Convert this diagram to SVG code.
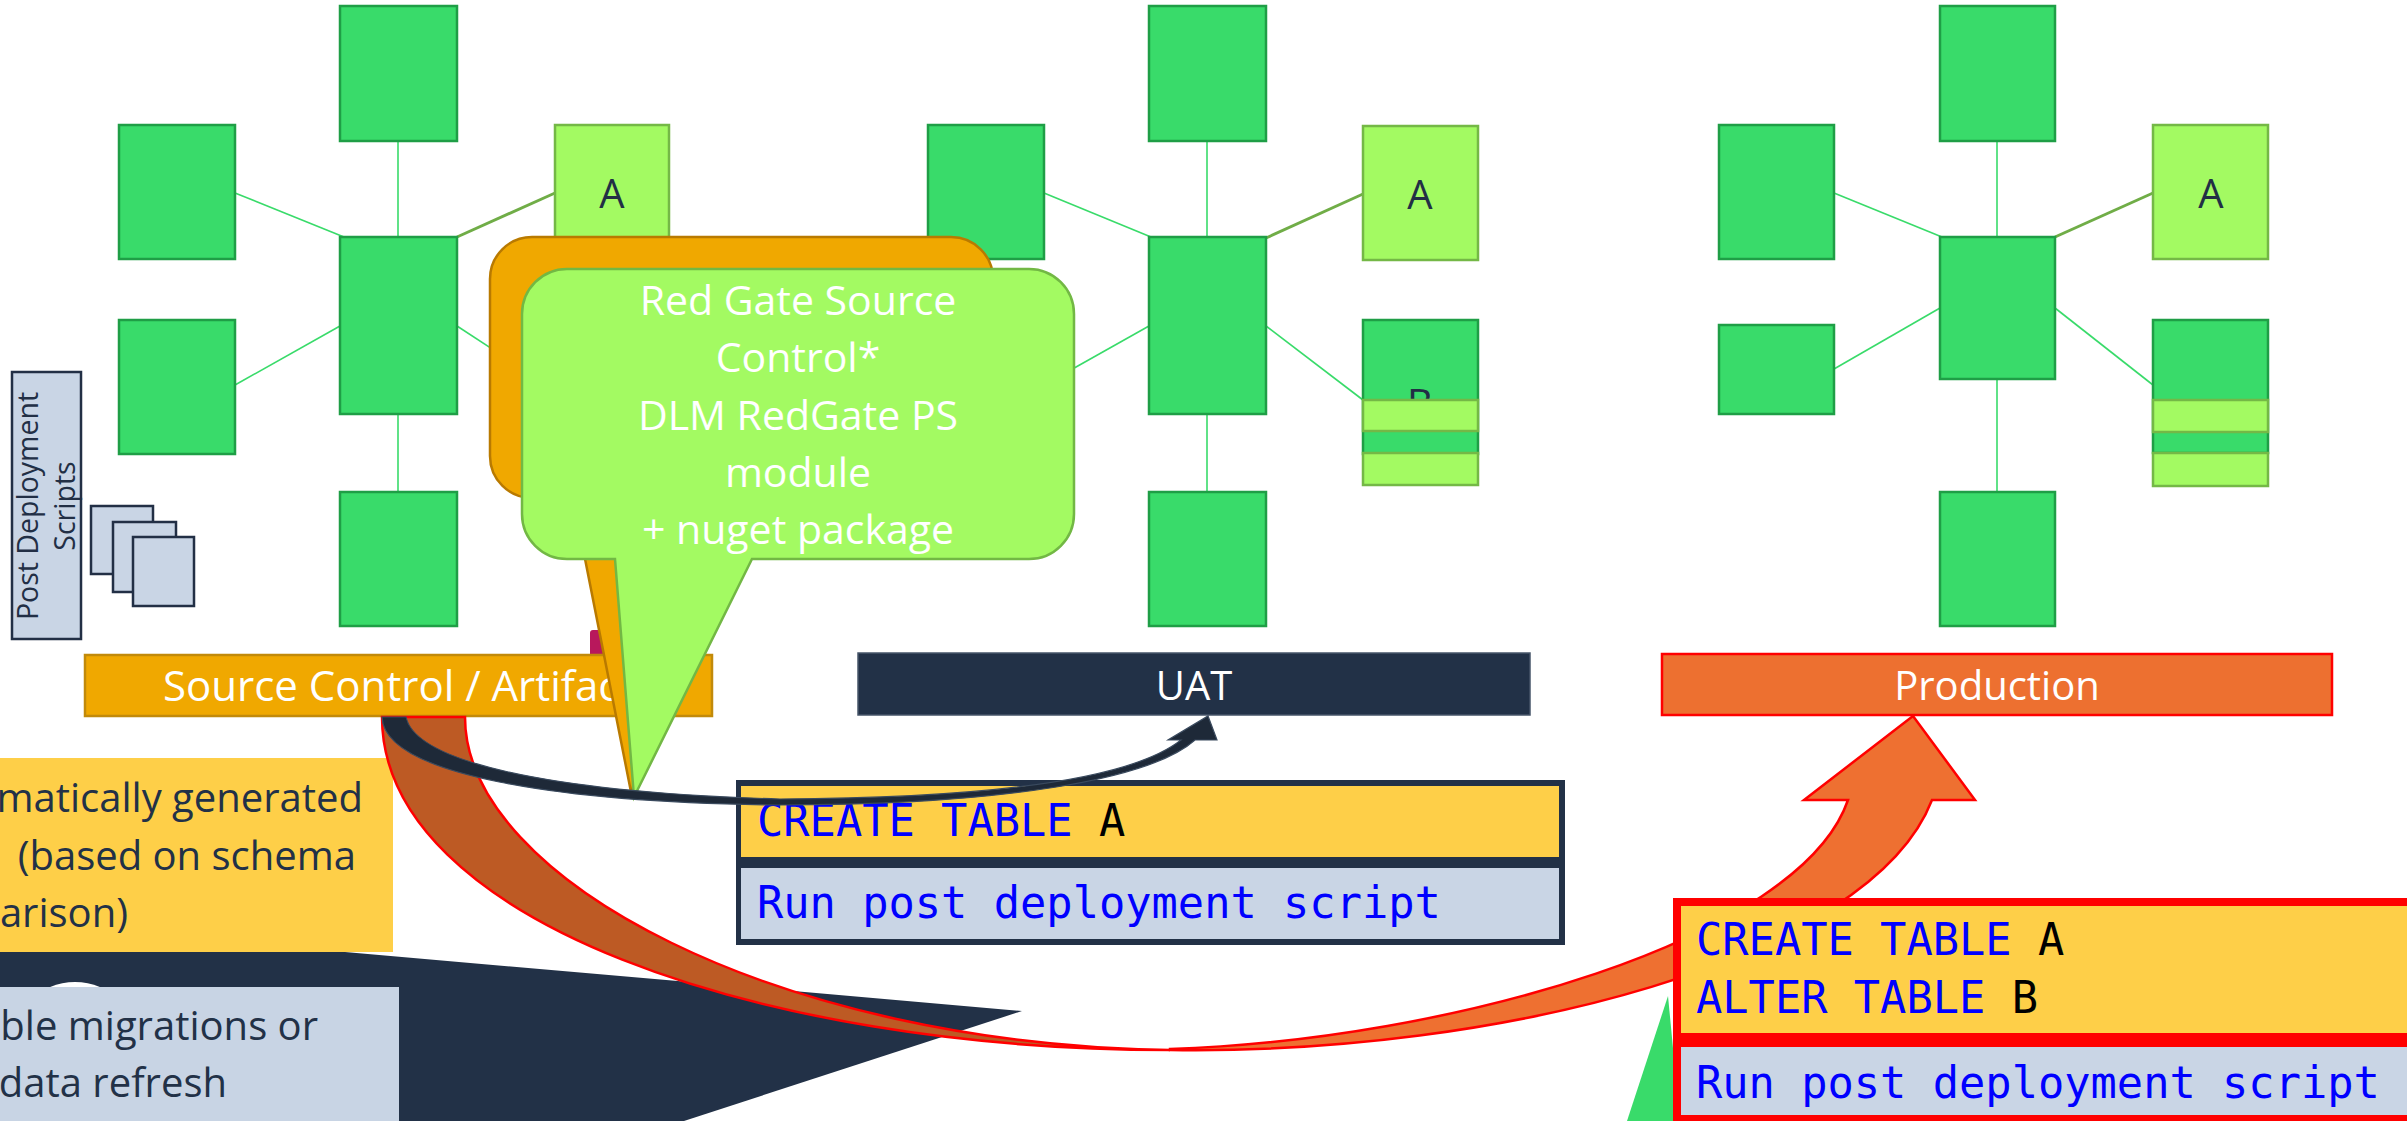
<svg xmlns="http://www.w3.org/2000/svg" width="2407" height="1121" viewBox="0 0 2407 1121">
<style>
  .tbl{fill:#39db6a;stroke:#1f9e46;stroke-width:2.5}
  .new{fill:#a3fa62;stroke:#74b846;stroke-width:2.5}
  .lnk{stroke:#39db6a;stroke-width:1.6;fill:none}
  .lnkA{stroke:#70ad47;stroke-width:3;fill:none}
  .sans{font-family:"Open Sans","Noto Sans","Liberation Sans",sans-serif}
  .lbl{font-size:40px;fill:#ffffff;text-anchor:middle}
  .call{font-size:41px;fill:#ffffff;text-anchor:middle}
  .tname{font-size:40px;fill:#222f45;text-anchor:middle}
  .note{font-size:40px;fill:#223147;text-anchor:end}
  .mono{font-family:"DejaVu Sans Mono","Liberation Mono",monospace;font-size:43.7px;fill:#0000ff}
  .id{fill:#000000}
  .doc{fill:#c9d5e5;stroke:#222f45;stroke-width:2.5}
</style>

<rect x="0" y="0" width="2407" height="1121" fill="#ffffff"/>

<!-- schema links inside each environment -->
<g id="links">
  <line class="lnk" x1="398" y1="141" x2="398" y2="237"/>
  <line class="lnk" x1="235" y1="193" x2="344" y2="237"/>
  <line class="lnk" x1="235" y1="385" x2="340" y2="326"/>
  <line class="lnk" x1="398" y1="414" x2="398" y2="492"/>
  <line class="lnkA" x1="457" y1="237" x2="555" y2="193"/>
  <line class="lnk" x1="457" y1="326" x2="555" y2="390"/>

  <line class="lnk" x1="1207" y1="141" x2="1207" y2="237"/>
  <line class="lnk" x1="1044" y1="193" x2="1151" y2="237"/>
  <line class="lnk" x1="1149" y1="326" x2="1044" y2="385"/>
  <line class="lnk" x1="1207" y1="414" x2="1207" y2="492"/>
  <line class="lnkA" x1="1266" y1="238" x2="1363" y2="194"/>
  <line class="lnk" x1="1266" y1="326" x2="1363" y2="400"/>

  <line class="lnk" x1="1997" y1="141" x2="1997" y2="237"/>
  <line class="lnk" x1="1834" y1="193" x2="1942" y2="237"/>
  <line class="lnk" x1="1834" y1="369" x2="1940" y2="308"/>
  <line class="lnk" x1="1997" y1="379" x2="1997" y2="492"/>
  <line class="lnkA" x1="2055" y1="237" x2="2153" y2="193"/>
  <line class="lnk" x1="2055" y1="308" x2="2153" y2="385"/>
</g>

<!-- source control schema -->
<g id="src-top"><rect class="tbl" x="340" y="6" width="117" height="135"/></g>
<g id="src-left1"><rect class="tbl" x="119" y="125" width="116" height="134"/></g>
<g id="src-hub"><rect class="tbl" x="340" y="237" width="117" height="177"/></g>
<g id="src-left2"><rect class="tbl" x="119" y="320" width="116" height="134"/></g>
<g id="src-bottom"><rect class="tbl" x="340" y="492" width="117" height="134"/></g>
<g id="src-a"><rect class="new" x="555" y="125" width="114" height="134"/><text class="sans tname" x="612" y="208">A</text></g>

<!-- UAT schema -->
<g id="uat-top"><rect class="tbl" x="1149" y="6" width="117" height="135"/></g>
<g id="uat-left1"><rect class="tbl" x="928" y="125" width="116" height="134"/></g>
<g id="uat-hub"><rect class="tbl" x="1149" y="237" width="117" height="177"/></g>
<g id="uat-bottom"><rect class="tbl" x="1149" y="492" width="117" height="134"/></g>
<g id="uat-a"><rect class="new" x="1363" y="126" width="115" height="134"/><text class="sans tname" x="1420" y="209">A</text></g>
<g id="uat-b">
  <rect class="tbl" x="1363" y="320" width="115" height="134"/>
  <text class="sans tname" x="1420" y="418">B</text>
  <rect class="new" x="1363" y="400" width="115" height="31"/>
  <rect class="new" x="1363" y="453" width="115" height="32"/>
</g>

<!-- production schema -->
<g id="prd-top"><rect class="tbl" x="1940" y="6" width="115" height="135"/></g>
<g id="prd-left1"><rect class="tbl" x="1719" y="125" width="115" height="134"/></g>
<g id="prd-hub"><rect class="tbl" x="1940" y="237" width="115" height="142"/></g>
<g id="prd-left2"><rect class="tbl" x="1719" y="325" width="115" height="89"/></g>
<g id="prd-bottom"><rect class="tbl" x="1940" y="492" width="115" height="134"/></g>
<g id="prd-a"><rect class="new" x="2153" y="125" width="115" height="134"/><text class="sans tname" x="2211" y="208">A</text></g>
<g id="prd-b">
  <rect class="tbl" x="2153" y="320" width="115" height="133"/>
  <rect class="new" x="2153" y="400" width="115" height="32"/>
  <rect class="new" x="2153" y="453" width="115" height="33"/>
</g>

<!-- post deployment scripts -->
<g id="post-scripts">
  <rect class="doc" x="12" y="372" width="69" height="267"/>
  <text class="sans" font-size="28.5" fill="#222f45" text-anchor="middle" transform="translate(38,506) rotate(-90)">Post Deployment</text>
  <text class="sans" font-size="28.5" fill="#222f45" text-anchor="middle" transform="translate(75,506) rotate(-90)">Scripts</text>
</g>
<g id="script-docs">
  <rect class="doc" x="91" y="506" width="62" height="68"/>
  <rect class="doc" x="113" y="522" width="63" height="70"/>
  <rect class="doc" x="133" y="537" width="61" height="69"/>
</g>

<g id="tag"><rect x="590" y="630" width="40" height="27" rx="3" fill="#b8185c"/></g>

<!-- environment bars -->
<g id="env-source">
  <rect x="85" y="655" width="627" height="61" fill="#f0a800" stroke="#c28a0a" stroke-width="2.5"/>
  <text class="sans" font-size="42" fill="#ffffff" x="163" y="701">Source Control / Artifacts</text>
</g>
<g id="env-uat">
  <rect x="858" y="653" width="672" height="62" fill="#223147" stroke="#475569" stroke-width="1.5"/>
  <text class="sans lbl" x="1194" y="700">UAT</text>
</g>
<g id="env-prod">
  <rect x="1662" y="654" width="670" height="61" fill="#ed7030" stroke="#ff0000" stroke-width="2.5"/>
  <text class="sans lbl" x="1997" y="700">Production</text>
</g>

<!-- notes on the left -->
<g id="pointer"><polygon points="0,922 1022,1011 684,1121 0,1121" fill="#223147"/></g>
<g id="badge"><circle cx="75" cy="1047" r="65" fill="#ffffff"/></g>
<g id="note-generated">
  <rect x="-10" y="758" width="403" height="194" fill="#fecf48"/>
  <text class="sans note" x="363" y="812">matically generated</text>
  <text class="sans note" x="356" y="870">(based on schema</text>
  <text class="sans note" x="128" y="927">arison)</text>
</g>
<g id="note-migrations">
  <rect x="-10" y="987" width="409" height="140" fill="#c8d4e4"/>
  <text class="sans note" x="318" y="1040">ble migrations or</text>
  <text class="sans note" x="227" y="1097">data refresh</text>
</g>

<!-- tooling callouts -->
<g id="callout-back">
  <path d="M532,237 H951 A42,42 0 0 1 993,279 V456 A42,42 0 0 1 951,498 H660 L632,797 L573,498 H532 A42,42 0 0 1 490,456 V279 A42,42 0 0 1 532,237 Z" fill="#f0a800" stroke="#b97a00" stroke-width="2.5"/>
</g>
<g id="callout-tools">
  <path d="M567,269 H1029 A45,45 0 0 1 1074,314 V514 A45,45 0 0 1 1029,559 H752 L634,797 L615,559 H567 A45,45 0 0 1 522,514 V314 A45,45 0 0 1 567,269 Z" fill="#a3fa62" stroke="#72b844" stroke-width="2.5"/>
  <text class="sans call" x="798" y="315">Red Gate Source</text>
  <text class="sans call" x="798" y="372">Control*</text>
  <text class="sans call" x="798" y="430">DLM RedGate PS</text>
  <text class="sans call" x="798" y="487">module</text>
  <text class="sans call" x="798" y="544">+ nuget package</text>
</g>

<!-- UAT deployment script -->
<g id="uat-script">
  <rect x="736" y="780" width="829" height="165" fill="#223147"/>
  <rect x="741" y="786" width="818" height="71" fill="#fecf48"/>
  <rect x="741" y="868" width="818" height="71" fill="#c9d5e5"/>
  <text class="mono" x="757" y="836">CREATE TABLE <tspan class="id">A</tspan></text>
  <text class="mono" x="757" y="918">Run post deployment script</text>
</g>

<!-- release flows -->
<g id="flows">
  <path d="M382,717 C382,920 760,1050 1170,1050 C780,1045 465,880 465,717 Z" fill="#bd5a24" stroke="#ff0000" stroke-width="2.5"/>
  <path d="M1170,1050 C1500,1055 1870,960 1932,800 L1975,800 L1913,716 L1804,800 L1848,800 C1800,940 1450,1040 1170,1049 Z" fill="#ee7031" stroke="#ff0000" stroke-width="2.5"/>
  <path d="M382,717 C384,775 560,803 780,805 C1000,805 1150,780 1195,740 L1217,740 L1208,716 L1168,740 L1181,740 C1130,780 990,798 780,799 C540,792 415,760 406,717 Z" fill="#1e2938" stroke="#3a4a5e" stroke-width="1.2"/>
</g>

<g id="marker-green"><polygon points="1668,996 1627,1121 1680,1121" fill="#39db6a"/></g>

<!-- production deployment script -->
<g id="prod-script">
  <rect x="1673" y="898" width="760" height="223" fill="#ff0000"/>
  <rect x="1681" y="906" width="740" height="127" fill="#fecf48"/>
  <rect x="1681" y="1047" width="740" height="68" fill="#c9d5e5"/>
  <text class="mono" x="1696" y="955">CREATE TABLE <tspan class="id">A</tspan></text>
  <text class="mono" x="1696" y="1013">ALTER TABLE <tspan class="id">B</tspan></text>
  <text class="mono" x="1696" y="1098">Run post deployment script</text>
</g>
</svg>
